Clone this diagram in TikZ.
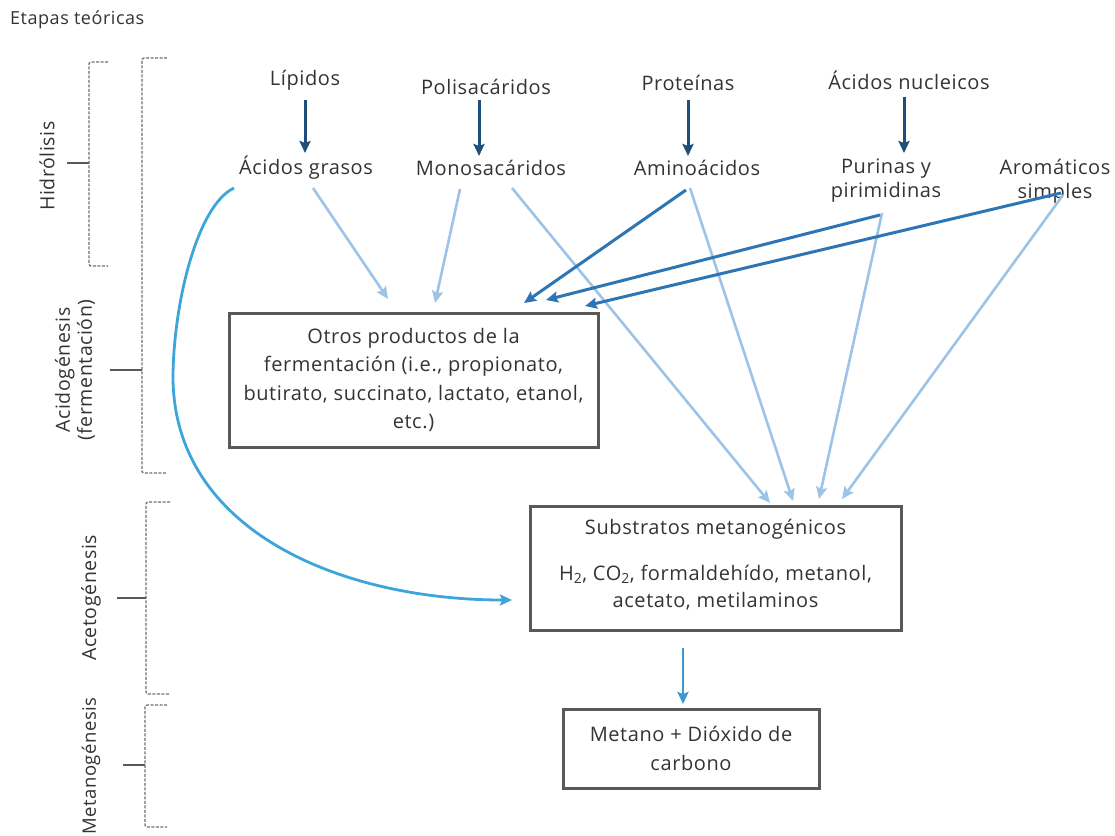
\documentclass[tikz,border=0pt]{standalone}
\usepackage{fontspec}
\setmainfont{Open Sans}[LetterSpace=3]
\usetikzlibrary{arrows.meta,calc}
\definecolor{txt}{HTML}{333333}
\definecolor{boxline}{HTML}{595959}
\definecolor{darkblue}{HTML}{1F4E79}
\definecolor{midblue}{HTML}{2E75B6}
\definecolor{lightblue}{HTML}{9DC3E6}
\definecolor{curveblue}{HTML}{3DA5D9}
\definecolor{bracketgray}{HTML}{6F6F6F}
\begin{document}
\begin{tikzpicture}[x=1pt,y=-1pt,
  lbl/.style={text=txt,font=\fontsize{20}{24}\selectfont,align=center,inner sep=0pt},
  stage/.style={text=txt,font=\fontsize{19.5}{22}\selectfont,align=center,inner sep=0pt,rotate=90},
  procbox/.style={draw=boxline,line width=3pt,text=txt,font=\fontsize{20}{28.5}\selectfont,align=center,inner sep=0pt},
  tip/.style={-{Stealth[length=12pt,width=11pt,inset=2pt]}},
  hyd/.style={draw=darkblue,line width=3pt,tip},
  light/.style={draw=lightblue,line width=2.6pt,tip},
  mid/.style={draw=midblue,line width=3pt,tip},
  brk/.style={draw=bracketgray,line width=1.3pt,dash pattern=on 3pt off 1.5pt,rounded corners=2pt},
  nub/.style={draw=bracketgray!80!black,line width=1.3pt}]
\useasboundingbox (0,0) rectangle (1115,835);

% title
\node[text=txt,font=\fontsize{18}{21}\selectfont,anchor=west,inner sep=0pt] (title) at (10,20) {Etapas teóricas};

% stage brackets
\draw[brk] (108,62) -- (89,62) -- (89,266) -- (108,266);
\draw[nub] (67,163) -- (89,163);
\draw[brk] (167,58) -- (142,58) -- (142,473) -- (167,473);
\draw[nub] (110,370) -- (142,370);
\draw[brk] (170,502) -- (146,502) -- (146,694) -- (170,694);
\draw[nub] (117,598) -- (146,598);
\draw[brk] (167,705) -- (145,705) -- (145,827) -- (167,827);
\draw[nub] (123,765) -- (145,765);

\node[stage] (hidro) at (47,166) {Hidrólisis};
\node[stage] (acido) at (75,370) {Acidogénesis\\(fermentación)};
\node[stage] (aceto) at (91,598) {Acetogénesis};
\node[stage,font=\fontsize{18.5}{22}\selectfont] (metano) at (91,766) {Metanogénesis};

% polymers
\node[lbl] (lip) at (305,80) {Lípidos};
\node[lbl] (pol) at (486,87) {Polisacáridos};
\node[lbl] (pro) at (688,83) {Proteínas};
\node[lbl] (nuc) at (909,80) {Ácidos nucleicos};

% monomers
\node[lbl] (agr) at (306,168) {Ácidos grasos};
\node[lbl] (mon) at (491,168) {Monosacáridos};
\node[lbl] (ami) at (697,168) {Aminoácidos};
\node[lbl] (pur) at (886,181) {Purinas y\\pirimidinas};
\node[lbl] (aro) at (1055,181) {Aromáticos\\simples};

% product boxes
\node[procbox,minimum width=369pt,minimum height=134pt] (otros) at (413.5,380) {Otros productos de la\\fermentación (i.e., propionato,\\butirato, succinato, lactato, etanol,\\etc.)};
\node[procbox,minimum width=371pt,minimum height=124pt] (sub) at (715.5,568) {};
\node[lbl] (subt) at (715.5,529) {Substratos metanogénicos};
\node[lbl,font=\fontsize{20}{27}\selectfont] (subl) at (715.5,588) {H\textsubscript{2}, CO\textsubscript{2}, formaldehído, metanol,\\acetato, metilaminos};
\node[procbox,minimum width=256pt,minimum height=79pt] (gas) at (691,748.5) {Metano + Dióxido de\\carbono};

% free ends of the connectors
\coordinate (lipS) at (305,100);  \coordinate (lipE) at (305,153);
\coordinate (polS) at (479,100);  \coordinate (polE) at (479,156);
\coordinate (proS) at (688,100);  \coordinate (proE) at (688,156);
\coordinate (nucS) at (904,97);   \coordinate (nucE) at (904,153);
\coordinate (agrA) at (313,188);
\coordinate (monA) at (460,189);
\coordinate (monB) at (512,188);
\coordinate (amiA) at (690,188);
\coordinate (amiB) at (686,190);
\coordinate (purA) at (882,213);
\coordinate (purB) at (880,215);
\coordinate (aroA) at (1063,195);
\coordinate (aroB) at (1061,193);
\coordinate (otrA) at (388,299);
\coordinate (otrB) at (435,303);
\coordinate (otrC) at (524,303);
\coordinate (otrD) at (546,300);
\coordinate (otrE) at (585,306);
\coordinate (subA) at (770,503);
\coordinate (subB) at (793,501);
\coordinate (subC) at (819,499);
\coordinate (subD) at (842,499);
\coordinate (subW) at (512,600);
\coordinate (agrC) at (234,188);
\coordinate (subS) at (683,648);
\coordinate (gasN) at (683,704);

% hydrolysis
\draw[hyd] (lipS) -- (lipE);
\draw[hyd] (polS) -- (polE);
\draw[hyd] (proS) -- (proE);
\draw[hyd] (nucS) -- (nucE);

% acidogenesis connectors
\draw[light] (agrA) -- (otrA);
\draw[light] (monA) -- (otrB);
\draw[light] (monB) -- (subA);
\draw[light] (amiA) -- (subB);
\draw[light] (purA) -- (subC);
\draw[light] (aroA) -- (subD);
\draw[mid] (amiB) -- (otrC);
\draw[mid] (purB) -- (otrD);
\draw[mid] (aroB) -- (otrE);

% fatty acids straight to methanogenic substrates
\draw[draw=curveblue,line width=2.8pt,tip]
  (agrC) .. controls (198,205) and (174,300) .. (173,375)
  .. controls (172,530) and (340,600) .. (subW);

% methanogenesis
\draw[draw=curveblue!75!midblue,line width=2.6pt,tip] (subS) -- (gasN);
\end{tikzpicture}
\end{document}
